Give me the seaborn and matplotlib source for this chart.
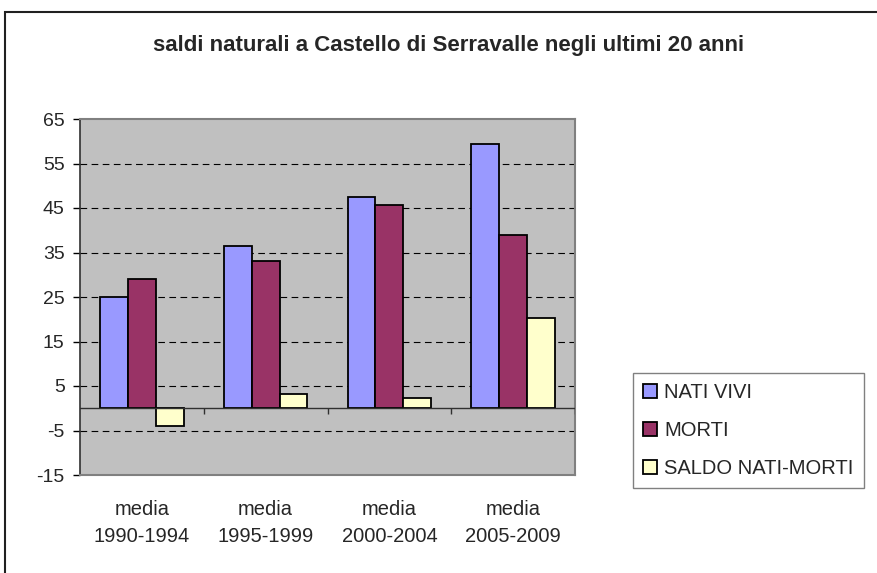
import matplotlib
matplotlib.use("Agg")
import matplotlib.pyplot as plt
import seaborn as sns
import pandas as pd
from matplotlib.patches import Rectangle, Patch

categories = ["media\n1990-1994", "media\n1995-1999", "media\n2000-2004", "media\n2005-2009"]
series = ["NATI VIVI", "MORTI", "SALDO NATI-MORTI"]
nati_vivi = [25.1, 36.4, 47.5, 59.3]
morti = [29.1, 33.2, 45.7, 39.0]
saldo = [-4.0, 3.1, 2.2, 20.2]
y_ticks = [-15, -5, 5, 15, 25, 35, 45, 55, 65]
colors = ["#9999FF", "#993366", "#FFFFCC"]

df = pd.DataFrame({
    "cat": categories * 3,
    "serie": [series[0]] * 4 + [series[1]] * 4 + [series[2]] * 4,
    "val": nati_vivi + morti + saldo,
})

sns.set_theme(style="white")
plt.rcParams["font.family"] = ["Liberation Sans", "DejaVu Sans"]

fig = plt.figure(figsize=(8.77, 5.73), dpi=100)
ax = fig.add_axes([80 / 877, 1 - 475 / 573, 495 / 877, 356 / 573])
ax.set_facecolor("#C0C0C0")

sns.barplot(data=df, x="cat", y="val", hue="serie", palette=colors,
            width=0.676, edgecolor="black", linewidth=1.3, ax=ax,
            saturation=1, legend=False, zorder=3)

ax.set_ylim(-15, 65)
ax.set_xlim(-0.5, 3.5)
ax.set_yticks(y_ticks)
ax.set_yticklabels([str(t) for t in y_ticks], fontsize=14)
for t in y_ticks[1:-1]:
    ax.axhline(t, color="black", lw=0.8, ls=(0, (6, 4)), zorder=1)
ax.axhline(0, color="#303030", lw=1.0, zorder=4)
ax.vlines([0.5, 1.5, 2.5, 3.5], -1.3, 0, color="#303030", lw=1.0, zorder=4)

ax.tick_params(axis="y", left=True, length=5, width=1, color="black", pad=6)
ax.tick_params(axis="x", bottom=False, pad=12)
ax.set_xticks(range(len(categories)))
ax.set_xticklabels(categories, fontsize=14.5, linespacing=1.5)
ax.set_xlabel("")
ax.set_ylabel("")
for s in ["top", "right", "bottom"]:
    ax.spines[s].set_color("#808080")
    ax.spines[s].set_linewidth(1.5)
ax.spines["left"].set_color("#303030")
ax.spines["left"].set_linewidth(1.2)

fig.text(449 / 877, 1 - 46 / 573, "saldi naturali a Castello di Serravalle negli ultimi 20 anni",
         ha="center", va="center", fontsize=16, fontweight="bold")

handles = [Patch(facecolor=c, edgecolor="black", linewidth=1.3) for c in colors]
leg = fig.legend(handles, series, loc="upper left",
                 bbox_to_anchor=(633 / 877, 1 - 373 / 573), fontsize=14.5,
                 frameon=True, fancybox=False, edgecolor="#606060",
                 handlelength=0.7, handleheight=0.7, handletextpad=0.35,
                 labelspacing=0.95, borderpad=0.5, borderaxespad=0)
leg.get_frame().set_linewidth(1.0)

fig.patches.append(Rectangle((5 / 877, -0.1), 1.2, 1.1 - 12 / 573,
                             transform=fig.transFigure, fill=False,
                             edgecolor="#202020", linewidth=1.5))

fig.savefig("out.png", dpi=100)
